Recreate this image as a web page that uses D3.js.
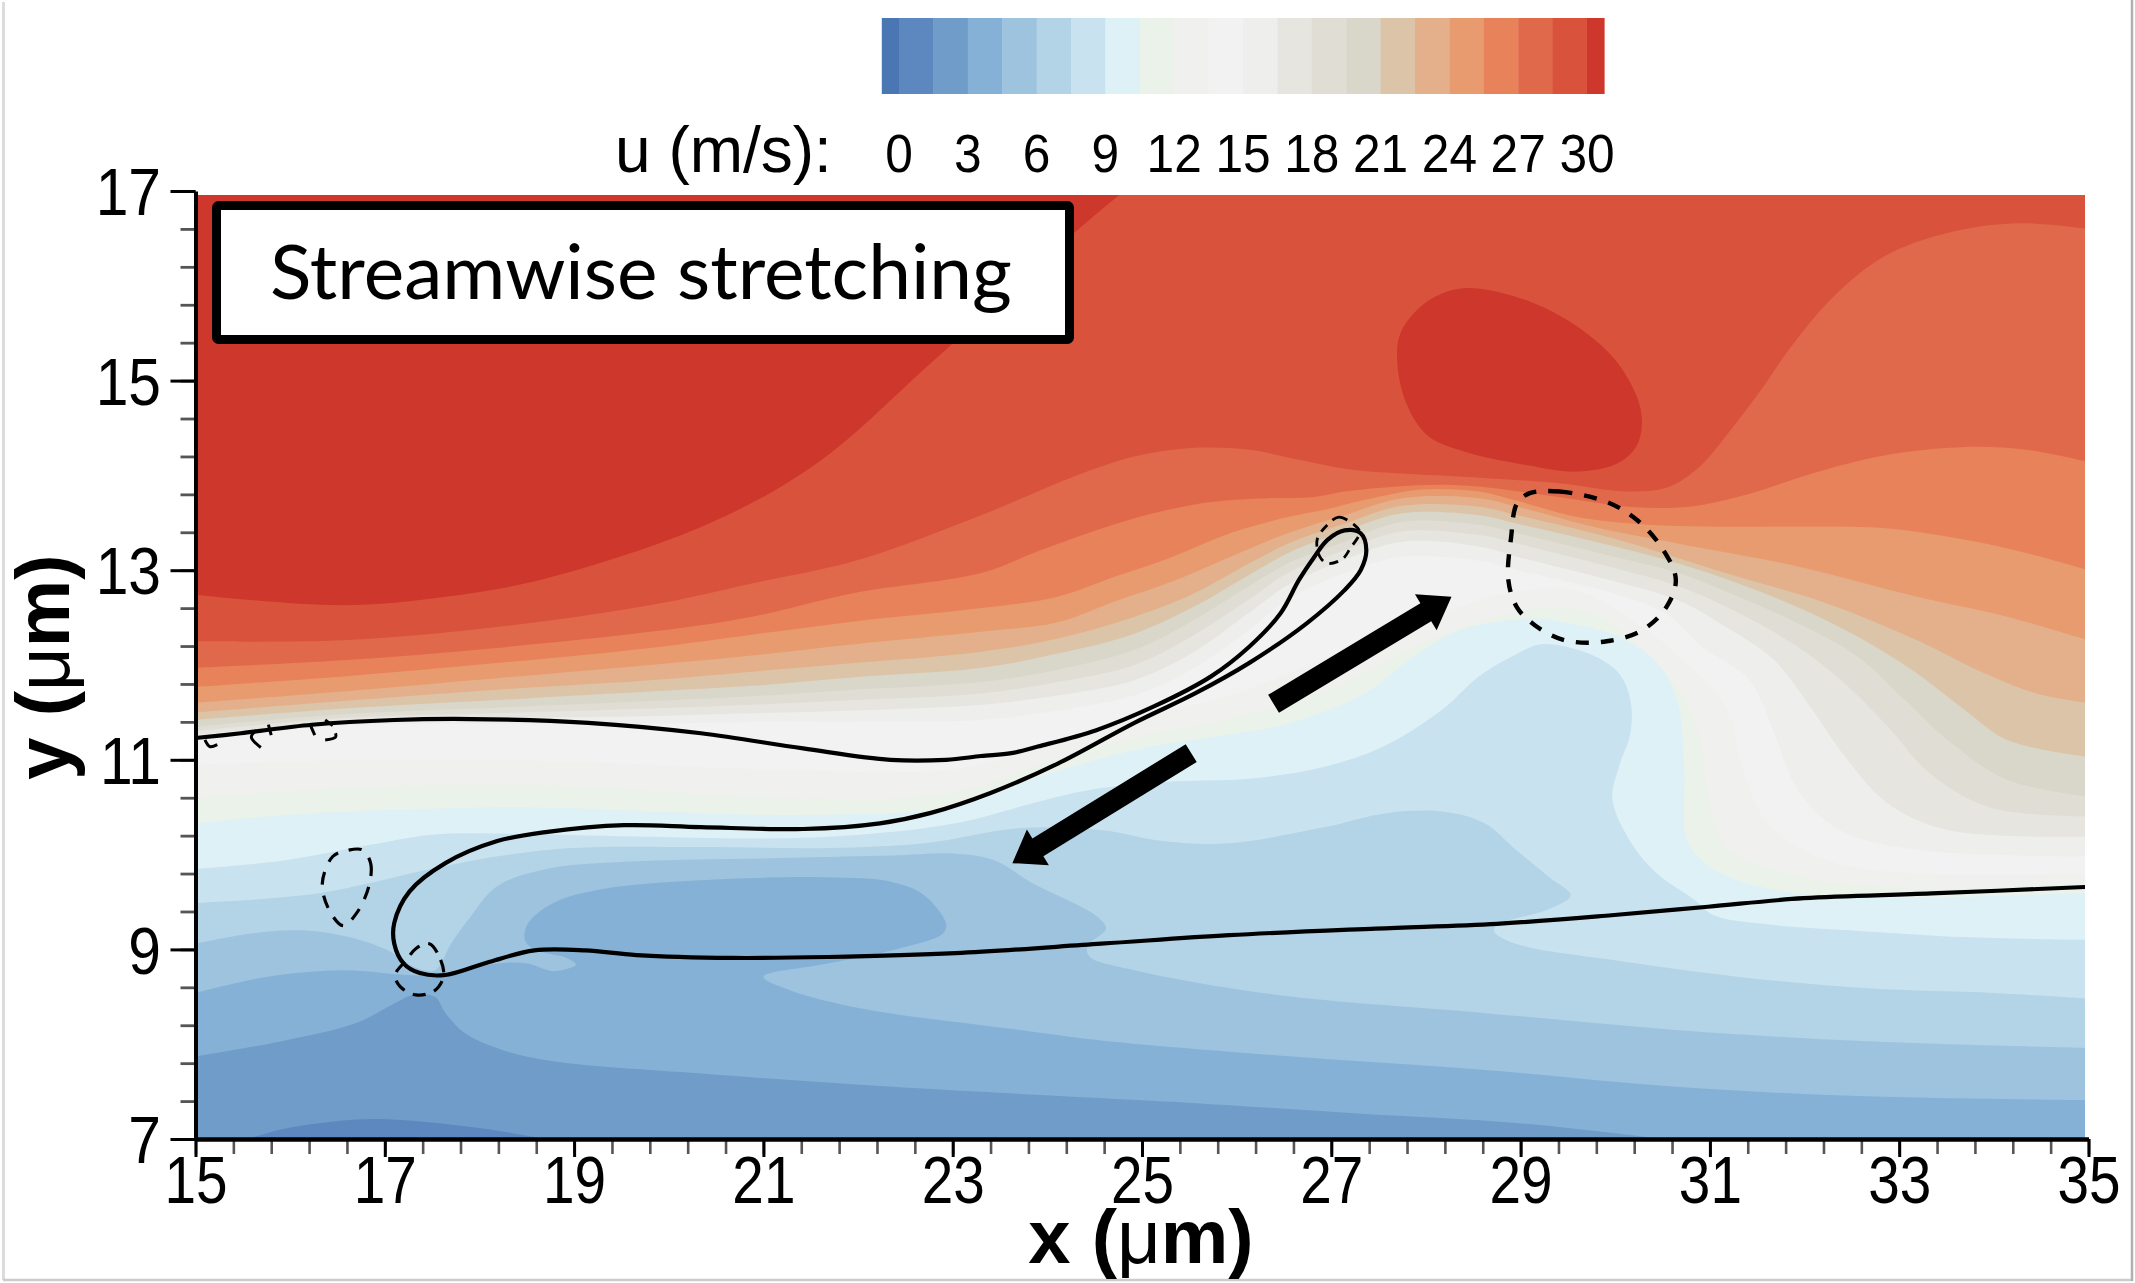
<!DOCTYPE html>
<html>
<head>
<meta charset="utf-8">
<script src="https://cdn.jsdelivr.net/npm/d3@7"></script>
<style>
  html, body { margin: 0; padding: 0; background: #fff; }
  svg { display: block; }
  text { font-family: "Liberation Sans", Arial, sans-serif; fill: #000; }
</style>
</head>
<body>
<div class="chart"></div>
<script>
// ---- data, all in chart units (x, y in um, u in m/s) ----
var xMajor = [15, 17, 19, 21, 23, 25, 27, 29, 31, 33, 35];
var yMajor = [7, 9, 11, 13, 15, 17];
var uLabels = [0, 3, 6, 9, 12, 15, 18, 21, 24, 27, 30];
var uEdges = [-0.75, 0, 1.5, 3, 4.5, 6, 7.5, 9, 10.5, 12, 13.5, 15, 16.5, 18, 19.5, 21, 22.5, 24, 25.5, 27, 28.5, 30, 30.75];
var uColors = ["#4a76b4", "#5c88bf", "#6f9cc9", "#86b1d6", "#9dc3de", "#b3d3e7", "#c9e2ef", "#def1f6", "#ebf2ea", "#f0f0ee",
  "#f2f2f2", "#eeeeec", "#e6e5e0", "#e0ddd5", "#d9d6ca", "#dcc4a8", "#e3b08b", "#e89b6f", "#e8825b", "#e1694b", "#d9533c", "#ce372c"];

// iso-u boundaries, read left to right
var u30left = [[15,12.74],[16.53,12.63],[17.64,12.72],[18.69,12.91],[20.42,13.49],[21.57,14.13],[22.72,15.14],[23.59,15.93],[24.31,16.58],[24.81,17]];
var u30blob = [[28.57,15.97],[29.11,15.83],[29.6,15.57],[30.03,15.18],[30.27,14.69],[30.24,14.34],[30.03,14.13],[29.6,14.04],[29.06,14.11],[28.41,14.25],[28.03,14.41],[27.81,14.72],[27.7,15.15],[27.73,15.5],[27.98,15.81],[28.3,15.96]];
var u285 = [[15,12.25],[16.56,12.26],[18.18,12.4],[19.8,12.63],[20.88,12.86],[22.01,13.11],[23.3,13.58],[24.31,14],[24.92,14.2],[25.52,14.29],[26.13,14.27],[26.68,14.16],[27.22,14.06],[28.3,13.99],[29.38,13.92],[30.14,13.83],[30.57,13.88],[30.89,14.09],[31.22,14.48],[31.54,14.9],[31.86,15.36],[32.3,15.88],[32.84,16.31],[33.48,16.55],[34.24,16.66],[35,16.6]];
var u27 = [[15,11.97],[16.56,12.05],[18.18,12.18],[19.8,12.35],[20.88,12.51],[21.96,12.76],[23.3,12.97],[23.9,13.2],[24.51,13.42],[25.12,13.6],[25.73,13.72],[26.33,13.76],[26.8,13.77],[27.22,13.84],[28.3,13.9],[29.49,13.76],[30.14,13.67],[30.78,13.67],[31.43,13.81],[32.08,14.02],[32.84,14.21],[33.7,14.3],[34.35,14.27],[35,14.14]];
var u255 = [[15,11.77],[16.56,11.88],[18.18,12.02],[19.8,12.18],[20.88,12.32],[21.96,12.46],[23.3,12.6],[24.11,12.72],[24.71,12.93],[25.32,13.14],[25.93,13.39],[26.54,13.56],[26.94,13.64],[27.35,13.74],[27.95,13.85],[28.56,13.83],[28.93,13.74],[29.6,13.56],[30.19,13.49],[31,13.46],[32.08,13.46],[32.89,13.44],[33.7,13.32],[34.35,13.18],[35,13]];
var u24 = [[15,11.6],[16.56,11.72],[18.18,11.86],[19.8,12],[20.88,12.1],[21.96,12.22],[23.3,12.35],[24.11,12.45],[24.71,12.67],[25.32,12.88],[25.93,13.14],[26.54,13.39],[27.14,13.58],[27.75,13.76],[28.56,13.76],[28.97,13.67],[29.8,13.45],[30.67,13.28],[31.93,13.04],[33.19,12.72],[34.14,12.51],[35,12.26]];
var u225 = [[15,11.5],[16.56,11.62],[18.18,11.74],[19.8,11.84],[20.88,11.93],[21.96,12.02],[23.3,12.14],[24.11,12.28],[24.92,12.51],[25.52,12.74],[26.13,13.07],[26.54,13.28],[27.14,13.49],[27.75,13.68],[28.56,13.67],[28.97,13.58],[30,13.33],[31.3,12.93],[32.24,12.65],[33.19,12.26],[33.82,11.95],[34.45,11.7],[35,11.6]];
var u21 = [[15,11.42],[16.56,11.54],[18.18,11.63],[19.8,11.72],[20.88,11.78],[21.96,11.87],[23.3,11.97],[24.11,12.12],[24.92,12.33],[25.52,12.6],[26.13,12.95],[26.54,13.18],[27.14,13.41],[27.75,13.6],[28.56,13.58],[28.97,13.49],[30,13.25],[30.67,13.07],[31.3,12.86],[31.93,12.61],[32.56,12.3],[33.19,11.91],[33.7,11.52],[34.14,11.21],[35,11.03]];
var u195 = [[15,11.35],[16.56,11.48],[18.18,11.55],[19.8,11.62],[20.88,11.67],[21.96,11.74],[23.3,11.82],[24.11,11.95],[24.92,12.16],[25.52,12.46],[26.13,12.83],[26.54,13.07],[27.14,13.3],[27.75,13.51],[28.56,13.48],[28.97,13.39],[30,13.14],[30.67,12.97],[31.3,12.72],[31.93,12.44],[32.56,12.09],[33.06,11.63],[33.51,11.21],[34.14,10.79],[35,10.61]];
var u18 = [[15,11.3],[16.56,11.44],[18.18,11.49],[19.8,11.54],[20.88,11.58],[21.96,11.63],[23.3,11.7],[24.11,11.82],[24.92,12],[25.52,12.3],[26.13,12.69],[26.54,12.97],[27.14,13.21],[27.75,13.41],[28.56,13.37],[28.97,13.28],[30,13.02],[30.67,12.83],[31.3,12.55],[31.93,12.19],[32.43,11.8],[32.88,11.35],[33.32,10.86],[33.95,10.5],[35,10.4]];
var u165 = [[15,11.26],[16.56,11.4],[18.18,11.44],[19.8,11.46],[20.88,11.49],[21.96,11.52],[23.3,11.58],[24.11,11.68],[24.92,11.84],[25.52,12.12],[26.13,12.55],[26.54,12.84],[27.14,13.11],[27.75,13.3],[28.56,13.25],[28.97,13.14],[30,12.88],[30.67,12.68],[31.17,12.4],[31.68,12.05],[32.06,11.56],[32.43,11.03],[32.88,10.54],[33.51,10.26],[35,10.19]];
var u15 = [[15,11.22],[16.56,11.36],[18.18,11.38],[19.8,11.38],[20.88,11.4],[21.96,11.4],[23.3,11.42],[24.11,11.52],[24.92,11.68],[25.52,11.95],[26.13,12.37],[26.54,12.69],[27.14,12.97],[27.75,13.14],[28.56,13.1],[28.97,13],[30,12.75],[30.54,12.54],[30.92,12.19],[31.42,11.84],[31.68,11.28],[31.93,10.68],[32.37,10.26],[33.19,10.05],[35,9.98]];
var u135 = [[15,10.95],[17,11],[19,10.98],[21,10.9],[23,10.9],[24,11.15],[25,11.45],[26,11.7],[27,12.1],[28,12.5],[29,12.78],[29.6,12.78],[30.29,12.4],[30.67,12.09],[31.17,11.56],[31.36,10.86],[31.61,10.33],[32.24,9.94],[33.19,9.8],[35,9.8]];
var u12 = [[15,10.6],[17,10.72],[19,10.72],[21,10.6],[23,10.65],[24,10.98],[25,11.25],[26,11.45],[27,11.75],[28,12.25],[29,12.57],[29.5,12.6],[29.91,12.47],[30.67,11.74],[30.9,11.2],[31,10.5],[31.17,10.08],[31.93,9.77],[33.19,9.64],[35,9.71]];
var u105 = [[15,10.33],[16,10.42],[17,10.47],[18.5,10.5],[20,10.45],[21,10.42],[22,10.43],[23,10.5],[24,10.85],[25,11.12],[25.73,11.24],[26.54,11.38],[27.35,11.7],[27.87,12.09],[28.36,12.37],[29.17,12.49],[29.41,12.46],[30.04,12.3],[30.48,11.98],[30.67,11.56],[30.73,10.86],[30.76,10.15],[31.05,9.84],[31.68,9.63],[32.56,9.55],[33.5,9.55],[35,9.6]];
var u9 = [[15,9.85],[15.95,9.94],[16.83,10.1],[17.5,10.21],[18.31,10.22],[19.66,10.19],[21,10.17],[22.02,10.21],[23.03,10.33],[23.91,10.56],[24.43,10.68],[25.32,10.77],[26.13,10.8],[26.94,10.93],[27.55,11.14],[28.16,11.52],[28.56,11.88],[28.97,12.12],[29.22,12.22],[29.72,12.12],[30.04,11.91],[30.16,11.63],[30.16,11.28],[30.04,10.93],[29.97,10.58],[30.17,10.12],[30.44,9.8],[30.84,9.52],[31.04,9.36],[31.65,9.26],[32.66,9.19],[33.68,9.13],[35,9.1]];
var u75 = [[15,9.49],[16.29,9.59],[17.5,9.85],[18.18,9.98],[18.99,10.07],[20.34,10.08],[21.68,10.07],[22.7,10.12],[23.71,10.28],[24.57,10.26],[25.24,10.14],[25.92,10.12],[26.93,10.29],[27.6,10.44],[28.21,10.45],[28.62,10.33],[28.95,10.05],[29.29,9.77],[29.53,9.57],[29.29,9.42],[28.75,9.26],[28.72,9.19],[28.95,9.06],[29.96,8.89],[31.31,8.71],[32.66,8.59],[34.01,8.54],[35,8.48]];
var u6 = [[15,9.06],[15.61,9.17],[16.15,9.2],[16.62,9.13],[17.03,8.99],[17.3,8.82],[17.53,8.78],[17.7,9.06],[17.91,9.35],[18.18,9.66],[18.72,9.85],[19.66,9.93],[21,9.96],[22.36,9.99],[23.03,10.01],[23.44,9.94],[23.84,9.7],[24.52,9.35],[24.62,9.22],[24.42,9.03],[24.45,8.92],[24.92,8.78],[25.52,8.66],[26.59,8.5],[28.6,8.33],[30.64,8.15],[32.66,8.03],[35,7.96]];
var u45 = [[15,8.54],[15.75,8.71],[16.56,8.78],[17.23,8.73],[17.64,8.73],[18.18,8.85],[18.51,8.85],[18.78,8.77],[19.02,8.84],[18.92,8.91],[18.58,9],[18.48,9.1],[18.51,9.27],[18.78,9.49],[19.32,9.64],[20.33,9.73],[21.68,9.76],[22.36,9.71],[22.7,9.57],[22.93,9.27],[22.9,9.17],[22.36,8.99],[21.68,8.85],[21,8.71],[21.28,8.57],[22.02,8.38],[23.71,8.15],[24.57,8.04],[26.59,7.87],[28.6,7.73],[30.64,7.55],[32.66,7.45],[35,7.41]];
var u3 = [[15,7.87],[15.95,8.04],[16.69,8.22],[17.1,8.43],[17.3,8.52],[17.53,8.5],[17.64,8.33],[17.84,8.12],[18.24,7.94],[18.78,7.82],[20.34,7.69],[22.36,7.55],[24.38,7.44],[25.52,7.38],[27.27,7.27],[28.95,7.17],[30.5,7]];
var u15low = [[15.55,7],[15.95,7.11],[16.42,7.18],[16.89,7.21],[17.43,7.18],[18.04,7.11],[18.7,7]];

// interface lines
var interfaceUpper = [[15,11.23],[15.48,11.28],[16.23,11.37],[17.1,11.42],[17.91,11.43],[19.15,11.39],[20.34,11.28],[21.42,11.12],[22.34,11],[22.93,11],[23.3,11.04],[23.62,11.07],[23.9,11.14],[24.51,11.31],[25.12,11.56],[25.73,11.88],[26.13,12.19],[26.46,12.54],[26.66,12.9],[26.82,13.14],[26.96,13.32],[27.14,13.42],[27.31,13.39],[27.37,13.21],[27.31,13],[27.14,12.79],[26.74,12.44],[26.13,12.02],[25.56,11.7],[24.92,11.39],[24.11,10.96],[23.4,10.65],[22.77,10.44],[22.23,10.33],[21.42,10.27],[20.34,10.29],[19.53,10.31],[18.72,10.24],[18.18,10.14],[17.64,9.91],[17.26,9.61],[17.1,9.28],[17.1,9.06],[17.2,8.85],[17.37,8.75],[17.64,8.73],[18.11,8.87],[18.58,8.99],[19.12,8.99],[19.66,8.94],[20.67,8.91],[21.68,8.92],[23.03,8.96],[24.57,9.06],[25.92,9.15],[27.47,9.22],[28.75,9.27],[29.96,9.36],[30.98,9.45],[31.99,9.54],[33.34,9.59],[35,9.66]];
var vortexBig = [[29.09,13.81],[29.41,13.83],[29.91,13.72],[30.23,13.53],[30.51,13.21],[30.64,12.9],[30.54,12.61],[30.29,12.37],[29.91,12.25],[29.47,12.26],[29.15,12.42],[28.96,12.61],[28.87,12.9],[28.9,13.35],[28.96,13.7]];
var vortexLeft = [[16.76,10.05],[16.85,9.91],[16.83,9.66],[16.7,9.38],[16.56,9.25],[16.41,9.42],[16.34,9.7],[16.45,9.98],[16.59,10.04]];
var vortexRoot = [[17.47,9.06],[17.59,8.89],[17.62,8.71],[17.52,8.56],[17.33,8.52],[17.16,8.61],[17.11,8.73],[17.23,8.89],[17.33,9.01]];
var vortexTip = [[26.96,13.48],[27.08,13.56],[27.24,13.48],[27.3,13.4],[27.2,13.23],[27.12,13.12],[26.96,13.07],[26.88,13.14],[26.85,13.32]];
var vortexBits = [
  [[15.1,11.21],[15.15,11.14],[15.23,11.16]],
  [[15.64,11.31],[15.59,11.24],[15.69,11.13]],
  [[15.77,11.37],[15.8,11.26]],
  [[16.22,11.35],[16.26,11.26]],
  [[16.37,11.42],[16.45,11.36]],
  [[16.37,11.21],[16.48,11.24],[16.48,11.28]]
];
// stretching arrows: tail, tip
var arrowUp = [[26.39,11.59],[28.27,12.72]];
var arrowDown = [[25.52,11.07],[23.63,9.91]];

// ---- layout ----
var W = 2135, H = 1283;
var plot = {left: 195.5, right: 2088.5, top: 191, bottom: 1139, fieldRight: 2085};

var x = d3.scaleLinear().domain([15, 35]).range([plot.left, plot.right]);
var y = d3.scaleLinear().domain([7, 17]).range([plot.bottom, plot.top]);
var uScale = d3.scaleLinear().domain([0, 30]).range([899, 1587]);

var svg = d3.select(".chart").append("svg")
  .attr("version", "1.1")
  .attr("viewBox", "0 0 " + W + " " + H)
  .attr("width", W)
  .attr("height", H);

// faint picture frame, open at the top
svg.append("path").attr("d", "M3.5,2V1280").attr("stroke", "#dcdcdc").attr("stroke-width", 3);
svg.append("path").attr("d", "M3,1280H2132").attr("stroke", "#cccccc").attr("stroke-width", 2.5);
svg.append("path").attr("d", "M2132,0V1281").attr("stroke", "#b0b0b0").attr("stroke-width", 2.5);

svg.append("clipPath").attr("id", "field")
  .append("rect")
  .attr("x", plot.left).attr("y", plot.top + 4)
  .attr("width", plot.fieldRight - plot.left).attr("height", plot.bottom - plot.top - 4);

var smooth = d3.line().x(function(d) { return x(d[0]); }).y(function(d) { return y(d[1]); }).curve(d3.curveCatmullRom);
var smoothClosed = d3.line().x(function(d) { return x(d[0]); }).y(function(d) { return y(d[1]); }).curve(d3.curveCatmullRomClosed);

function colorFor(u) { return uColors[uEdges.indexOf(u)]; }

// region between a boundary and the top or bottom of the field
function band(line, side) {
  var yEdge = y(side), last = line[line.length - 1], first = line[0];
  return smooth(line) + "L" + x(last[0]) + "," + yEdge + "L" + x(first[0]) + "," + yEdge + "Z";
}

var field = svg.append("g").attr("clip-path", "url(#field)");
field.append("rect")
  .attr("x", plot.left).attr("y", plot.top)
  .attr("width", plot.right - plot.left).attr("height", plot.bottom - plot.top)
  .attr("fill", colorFor(13.5));

// fast side, painted from the slowest level up
var upper = [[15, u15], [16.5, u165], [18, u18], [19.5, u195], [21, u21], [22.5, u225], [24, u24], [25.5, u255], [27, u27], [28.5, u285], [30, u30left]];
upper.forEach(function(b) {
  field.append("path").attr("d", band(b[1], 17)).attr("fill", colorFor(b[0]));
});
field.append("path").attr("d", smoothClosed(u30blob)).attr("fill", colorFor(30));

// slow side, painted from the fastest level down
var lower = [[13.5, u135], [12, u12], [10.5, u105], [9, u9], [7.5, u75], [6, u6], [4.5, u45], [3, u3], [1.5, u15low]];
lower.forEach(function(b) {
  field.append("path").attr("d", band(b[1], 7)).attr("fill", uColors[uEdges.indexOf(b[0]) - 1]);
});

// interface and vortex contours
field.append("path").attr("d", smooth(interfaceUpper))
  .attr("fill", "none").attr("stroke", "#000").attr("stroke-width", 4.2);

[[vortexBig, 4.4, "13 12"], [vortexLeft, 3.2, "13 11"], [vortexRoot, 3.2, "13 9"], [vortexTip, 2.8, "9 7"]].forEach(function(v) {
  field.append("path").attr("d", smoothClosed(v[0]))
    .attr("fill", "none").attr("stroke", "#000").attr("stroke-width", v[1]).attr("stroke-dasharray", v[2]);
});
vortexBits.forEach(function(b) {
  field.append("path").attr("d", smooth(b)).attr("fill", "none").attr("stroke", "#000").attr("stroke-width", 3);
});

// arrows
function arrowPath(a) {
  var x0 = x(a[0][0]), y0 = y(a[0][1]), x1 = x(a[1][0]), y1 = y(a[1][1]);
  var len = Math.hypot(x1 - x0, y1 - y0), ux = (x1 - x0) / len, uy = (y1 - y0) / len;
  var nx = -uy, ny = ux, body = 10.5, head = 21, headLen = 30;
  var bx = x1 - ux * headLen, by = y1 - uy * headLen;
  var pts = [[x0 + nx * body, y0 + ny * body], [bx + nx * body, by + ny * body], [bx + nx * head, by + ny * head], [x1, y1],
    [bx - nx * head, by - ny * head], [bx - nx * body, by - ny * body], [x0 - nx * body, y0 - ny * body]];
  return "M" + pts.join("L") + "Z";
}
svg.selectAll("path.arrow").data([arrowUp, arrowDown]).enter().append("path")
  .attr("class", "arrow").attr("d", arrowPath).attr("fill", "#000");

// ---- axes ----
var xMinor = d3.range(15, 35.01, 0.4);
var yMinor = d3.range(7, 17.01, 0.4);

var gxm = svg.append("g").attr("transform", "translate(0," + plot.bottom + ")")
  .call(d3.axisBottom(x).tickValues(xMinor).tickSize(15).tickSizeOuter(0).tickFormat(""));
gxm.selectAll(".tick line").attr("stroke", "#555").attr("stroke-width", 2.6);
gxm.select(".domain").remove();

var gym = svg.append("g").attr("transform", "translate(" + plot.left + ",0)")
  .call(d3.axisLeft(y).tickValues(yMinor).tickSize(15).tickSizeOuter(0).tickFormat(""));
gym.selectAll(".tick line").attr("stroke", "#555").attr("stroke-width", 2.8);
gym.select(".domain").remove();

var gx = svg.append("g").attr("transform", "translate(0," + plot.bottom + ")")
  .call(d3.axisBottom(x).tickValues(xMajor).tickSize(18).tickSizeOuter(0).tickFormat(d3.format("d")));
gx.select(".domain").attr("stroke", "#000").attr("stroke-width", 4.5);
gx.selectAll(".tick line").attr("stroke", "#000").attr("stroke-width", 3);
gx.selectAll(".tick text")
  .attr("x", 0).attr("y", 0).attr("dy", 0)
  .attr("text-anchor", "middle")
  .attr("transform", "translate(0,63.5) scale(0.86,1)")
  .style("font-family", "'Liberation Sans'")
  .style("font-size", "66px").attr("fill", "#000");

var gy = svg.append("g").attr("transform", "translate(" + plot.left + ",0)")
  .call(d3.axisLeft(y).tickValues(yMajor).tickSize(25).tickSizeOuter(0).tickFormat(d3.format("d")));
gy.select(".domain").attr("stroke", "#000").attr("stroke-width", 4);
gy.selectAll(".tick line").attr("stroke", "#000").attr("stroke-width", 3);
gy.selectAll(".tick text")
  .attr("x", 0).attr("y", 0).attr("dy", "0.36em")
  .attr("text-anchor", "end")
  .attr("transform", "translate(-34.5,0) scale(0.89,1)")
  .style("font-family", "'Liberation Sans'")
  .style("font-size", "66px").attr("fill", "#000");

// axis titles, mu in regular weight
function axisTitle(g, name) {
  var t = g.append("text").attr("text-anchor", "middle").style("font-size", "76px");
  t.append("tspan").style("font-weight", "bold").text(name + " (");
  t.append("tspan").text("\u03bc");
  t.append("tspan").style("font-weight", "bold").text("m)");
}
axisTitle(svg.append("g").attr("transform", "translate(1141,1263)"), "x");
axisTitle(svg.append("g").attr("transform", "translate(69,667) rotate(-90)"), "y");

// ---- colour bar ----
var legend = svg.append("g");
legend.selectAll("rect").data(uColors).enter().append("rect")
  .attr("x", function(d, i) { return uScale(uEdges[i]); })
  .attr("y", 18)
  .attr("width", function(d, i) { return uScale(uEdges[i + 1]) - uScale(uEdges[i]) + 0.4; })
  .attr("height", 76)
  .attr("fill", function(d) { return d; });

legend.selectAll("text.ulab").data(uLabels).enter().append("text")
  .attr("class", "ulab")
  .attr("text-anchor", "middle")
  .attr("transform", function(d) { return "translate(" + uScale(d) + ",172) scale(0.92,1)"; })
  .style("font-size", "54px")
  .text(function(d) { return d; });

legend.append("text").attr("x", 615).attr("y", 172).style("font-size", "64px").text("u (m/s):");

// ---- label box ----
svg.append("rect")
  .attr("x", 216.5).attr("y", 205.5).attr("width", 853).attr("height", 134)
  .attr("rx", 2)
  .attr("fill", "#fff").attr("stroke", "#000").attr("stroke-width", 9);
svg.append("text")
  .attr("x", 270).attr("y", 299)
  .attr("textLength", 742).attr("lengthAdjust", "spacingAndGlyphs")
  .style("font-family", "Lato, 'Open Sans', sans-serif")
  .style("font-size", "76px")
  .text("Streamwise stretching");
</script>
</body>
</html>
